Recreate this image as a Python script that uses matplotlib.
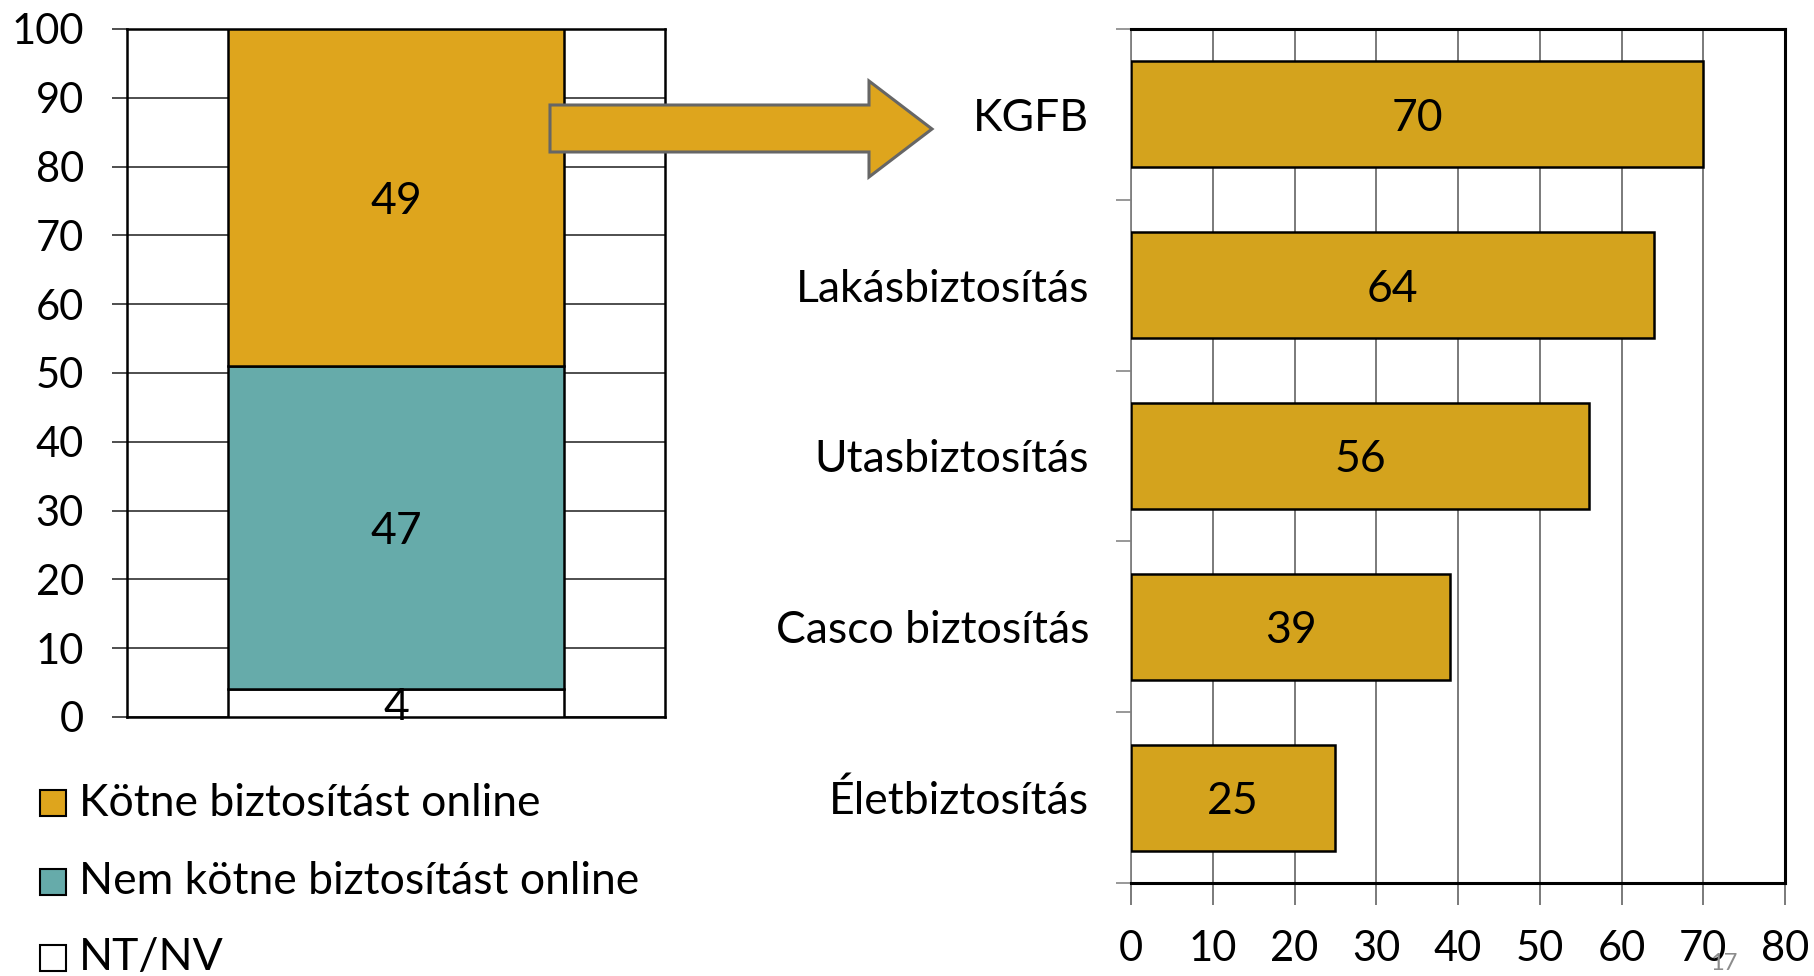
import matplotlib.pyplot as plt
import numpy as np
from matplotlib.patches import Polygon, Rectangle

plt.rcParams['font.family'] = ['Lato', 'DejaVu Sans']

# left stacked bar: share of respondents (%)
stack_labels = ['NT/NV', 'Nem kötne biztosítást online', 'Kötne biztosítást online']
stack_values = [4, 47, 49]
stack_colors = ['#FFFFFF', '#66ABAA', '#DEA51D']

# right bar chart: which insurance they would buy online (%)
products = ['KGFB', 'Lakásbiztosítás', 'Utasbiztosítás', 'Casco biztosítás', 'Életbiztosítás']
product_values = [70, 64, 56, 39, 25]
bar_color = '#D4A31D'

W, H = 1814, 976
fig = plt.figure(figsize=(W / 100, H / 100), dpi=100)

def px(x0, y0, x1, y1):
    # pixel box (top-left origin) -> figure fraction rect
    return [x0 / W, 1 - y1 / H, (x1 - x0) / W, (y1 - y0) / H]

fs = 30
fs_big = 32

# ---- left chart
ax1 = fig.add_axes(px(127, 29, 665, 717))
bottom = 0
for v, c in zip(stack_values, stack_colors):
    ax1.bar(0, v, bottom=bottom, width=0.626, color=c, edgecolor='black', linewidth=1.8, zorder=3)
    ax1.text(0, bottom + v / 2, str(v), ha='center', va='center_baseline', fontsize=fs_big, zorder=4)
    bottom += v
ax1.set_xlim(-0.5, 0.5)
ax1.set_ylim(0, 100)
ax1.set_yticks(np.arange(0, 101, 10))
ax1.set_xticks([])
ax1.yaxis.grid(True, color='#404040', linewidth=1.3, zorder=0)
ax1.tick_params(axis='y', length=11, width=1.3, color='#404040', pad=20, labelsize=fs)
for s in ax1.spines.values():
    s.set_linewidth(1.8)

# ---- right chart
ax2 = fig.add_axes(px(1131, 29, 1785, 883))
ypos = np.arange(len(products))
ax2.barh(ypos, product_values, height=0.62, color=bar_color, edgecolor='black', linewidth=1.8, zorder=3)
for y, v in zip(ypos, product_values):
    ax2.text(v / 2, y, str(v), ha='center', va='center_baseline', fontsize=fs_big, zorder=4)
ax2.set_ylim(len(products) - 0.5, -0.5)
ax2.set_xlim(0, 80)
ax2.set_xticks(np.arange(0, 81, 10))
ax2.set_yticks(ypos)
ax2.set_yticklabels(products)
ax2.set_yticks(np.arange(-0.5, len(products), 1), minor=True)
ax2.xaxis.grid(True, color='#707070', linewidth=1.3, zorder=0)
ax2.tick_params(axis='y', which='major', length=0, pad=30, labelsize=fs_big)
ax2.tick_params(axis='y', which='minor', length=11, width=1.3, color='#909090')
ax2.tick_params(axis='x', length=16, width=1.3, color='#707070', pad=18, labelsize=fs)
for name, s in ax2.spines.items():
    s.set_linewidth(2.2)
ax2.spines['left'].set_linewidth(1.3)
ax2.spines['left'].set_color('#808080')

# ---- arrow between the charts
pts = [(550, 105), (869, 105), (869, 81), (932, 129), (869, 177), (869, 152), (550, 152)]
pts = [(x / W, 1 - y / H) for x, y in pts]
fig.patches.append(Polygon(pts, closed=True, transform=fig.transFigure, facecolor='#DEA51D',
                           edgecolor='#666666', linewidth=2.2, zorder=10))

# ---- legend
rows_y = [803, 882, 958]
for (lab, c), y in zip(list(zip(stack_labels, stack_colors))[::-1], rows_y):
    fig.patches.append(Rectangle((40 / W, 1 - (y + 13) / H), 26 / W, 26 / H, transform=fig.transFigure,
                                 facecolor=c, edgecolor='black', linewidth=1.5))
    fig.text(79 / W, 1 - y / H, lab, ha='left', va='center', fontsize=fs_big)

fig.text(1724 / W, 1 - 963 / H, '17', ha='center', va='center', fontsize=17, color='#8C8C8C')

fig.savefig('out.png', dpi=100)
